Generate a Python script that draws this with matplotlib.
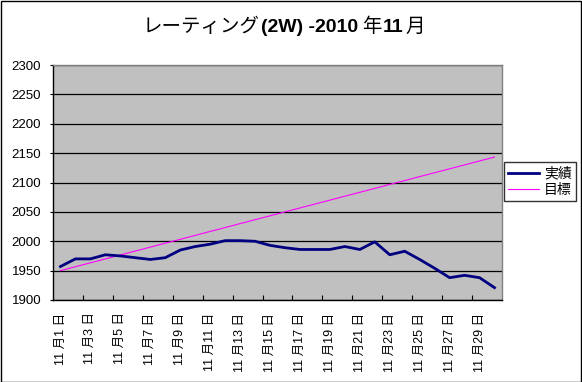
import matplotlib
matplotlib.use('Agg')
import matplotlib.pyplot as plt
from matplotlib.patches import Rectangle
import numpy as np

plt.rcParams['font.family'] = ['Liberation Sans', 'Noto Sans CJK JP', 'DejaVu Sans']

# data
days = list(range(1, 31))
categories = ['11 月{} 日'.format(d) for d in days]
actual = [1957, 1970, 1970, 1977, 1975, 1972, 1969, 1972, 1985, 1991,
          1995, 2001, 2001, 2000, 1993, 1989, 1986, 1986, 1986, 1991,
          1986, 1999, 1977, 1983, 1969, 1954, 1938, 1942, 1938, 1921]
target = [1950.0, 1956.7, 1963.3, 1970.0, 1976.7, 1983.3, 1990.0, 1996.7, 2003.3, 2010.0,
          2016.7, 2023.3, 2030.0, 2036.7, 2043.3, 2050.0, 2056.7, 2063.3, 2070.0, 2076.7,
          2083.3, 2090.0, 2096.7, 2103.3, 2110.0, 2116.7, 2123.3, 2130.0, 2136.7, 2143.3]
series_names = ['実績', '目標']
yticks = [1900, 1950, 2000, 2050, 2100, 2150, 2200, 2250, 2300]
title_parts = [('レーティング', 'normal', 0), ('(2W) -2010', 'bold', 1),
               ('年', 'normal', 4), ('11', 'bold', 1), ('月', 'normal', 3)]


def draw_title(fig, parts, xc, y, size):
    renderer = fig.canvas.get_renderer()
    W = fig.bbox.width
    texts = []
    total = 0
    for s, w, gap in parts:
        t = fig.text(0, y, s, fontsize=size, weight=w, va='center', ha='left')
        bb = t.get_window_extent(renderer)
        texts.append((t, bb.width, gap))
        total += bb.width + gap
    x = xc - total / 2
    for t, wd, gap in texts:
        x += gap
        t.set_x(x / W)
        x += wd


def main():
    fig = plt.figure(figsize=(5.82, 3.82), dpi=100)
    fig.patches.append(Rectangle((0.5 / 582, 0.5 / 382), 580.5 / 582, 380.5 / 382,
                                 transform=fig.transFigure, fill=False,
                                 edgecolor='black', linewidth=1))
    ax = fig.add_axes([53 / 582, 82 / 382, 449 / 582, 235 / 382])
    ax.set_facecolor('#C0C0C0')

    x = np.arange(len(days))
    ax.plot(x, actual, color='#000080', linewidth=2.0, label=series_names[0], zorder=4)
    ax.plot(x, target, color='#FF00FF', linewidth=0.8, label=series_names[1], zorder=3)

    ax.set_xlim(-0.5, len(days) - 0.5)
    ax.set_ylim(1900, 2300)
    ax.set_yticks(yticks)
    ax.yaxis.grid(True, color='black', linewidth=0.9)
    ax.set_axisbelow(True)
    ax.tick_params(axis='y', direction='out', length=2.5, width=0.8, pad=6, labelsize=9.5)

    ax.set_xticks(x[::2])
    ax.set_xticklabels(categories[::2], rotation=90, fontsize=9)
    ax.tick_params(axis='x', which='major', length=0, pad=9)
    ax.set_xticks(np.arange(1.5, len(days) - 0.5, 2), minor=True)
    ax.tick_params(axis='x', which='minor', direction='in', length=3.5, width=0.8)

    for side in ['left', 'bottom']:
        ax.spines[side].set_color('black')
        ax.spines[side].set_linewidth(1)
    for side in ['top', 'right']:
        ax.spines[side].set_color('#808080')
        ax.spines[side].set_linewidth(1)

    leg = ax.legend(loc='center left', bbox_to_anchor=(504 / 582, (382 - 181.5) / 382),
                    bbox_transform=fig.transFigure, fontsize=10, frameon=True,
                    fancybox=False, shadow=False, handlelength=2.2, handletextpad=0.4,
                    borderpad=0.3, labelspacing=0.15, borderaxespad=0)
    leg.get_frame().set_edgecolor('black')
    leg.get_frame().set_linewidth(1)

    draw_title(fig, title_parts, 284, (382 - 27) / 382, 14)

    fig.savefig('out.png', dpi=100, facecolor='white')


if __name__ == '__main__':
    main()
